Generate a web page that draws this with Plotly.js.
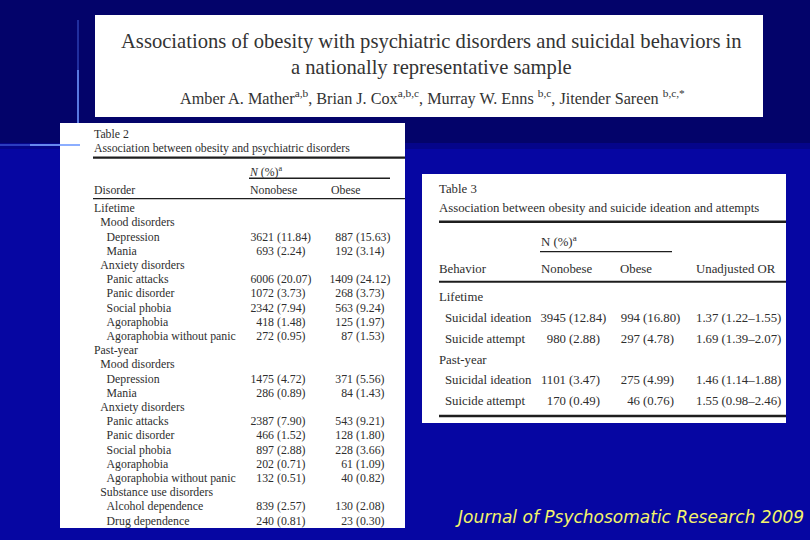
<!DOCTYPE html>
<html>
<head>
<meta charset="utf-8">
<script src="https://cdn.plot.ly/plotly-3.0.1.min.js"></script>
<style>
html, body { margin: 0; padding: 0; background: #0606a2; }
#plot { width: 810px; height: 540px; }
</style>
</head>
<body>
<div id="plot"></div>
<script>
"use strict";

// ── Table 2 — obesity vs psychiatric disorders ──
const t2Labels = [
    "Lifetime", "Mood disorders", "Depression", "Mania",
    "Anxiety disorders", "Panic attacks", "Panic disorder", "Social phobia",
    "Agoraphobia", "Agoraphobia without panic",
    "Past-year", "Mood disorders", "Depression", "Mania",
    "Anxiety disorders", "Panic attacks", "Panic disorder", "Social phobia",
    "Agoraphobia", "Agoraphobia without panic",
    "Substance use disorders", "Alcohol dependence", "Drug dependence",
];
const t2Levels = [0, 1, 2, 2, 1, 2, 2, 2, 2, 2, 0, 1, 2, 2, 1, 2, 2, 2, 2, 2, 1, 2, 2];
const t2NonobeseN = [null, null, 3621, 693, null, 6006, 1072, 2342, 418, 272,
    null, null, 1475, 286, null, 2387, 466, 897, 202, 132, null, 839, 240];
const t2NonobesePct = [null, null, 11.84, 2.24, null, 20.07, 3.73, 7.94, 1.48, 0.95,
    null, null, 4.72, 0.89, null, 7.90, 1.52, 2.88, 0.71, 0.51, null, 2.57, 0.81];
const t2ObeseN = [null, null, 887, 192, null, 1409, 268, 563, 125, 87,
    null, null, 371, 84, null, 543, 128, 228, 61, 40, null, 130, 23];
const t2ObesePct = [null, null, 15.63, 3.14, null, 24.12, 3.73, 9.24, 1.97, 1.53,
    null, null, 5.56, 1.43, null, 9.21, 1.80, 3.66, 1.09, 0.82, null, 2.08, 0.30];

// ── Table 3 — obesity vs suicide ideation and attempts ──
const t3Labels = ["Lifetime", "Suicidal ideation", "Suicide attempt",
    "Past-year", "Suicidal ideation", "Suicide attempt"];
const t3Levels = [0, 1, 1, 0, 1, 1];
const t3NonobeseN = [null, 3945, 980, null, 1101, 170];
const t3NonobesePct = [null, 12.84, 2.88, null, 3.47, 0.49];
const t3ObeseN = [null, 994, 297, null, 275, 46];
const t3ObesePct = [null, 16.80, 4.78, null, 4.99, 0.76];
const t3OR = [null, 1.37, 1.69, null, 1.46, 1.55];
const t3ORLow = [null, 1.22, 1.39, null, 1.14, 0.98];
const t3ORHigh = [null, 1.55, 2.07, null, 1.88, 2.46];

const W = 810, H = 540;
const SERIF = "Liberation Serif, Times New Roman, serif";
const INK = "#2e2e2e";
const RULE = "#1e1e1e";

const px = v => v / W;
const py = v => 1 - v / H;

// y axis in row units, reversed, so row i sits at firstRow + i*pitch px
function rowRange(boxTop, boxBottom, firstRow, pitch) {
    return [(boxBottom - firstRow) / pitch, (boxTop - firstRow) / pitch];
}

const rows = arr => arr.map((_, i) => i);
const keep = (arr, ref) => arr.filter((_, i) => ref[i] !== null);
const pct = v => "(" + v.toFixed(2) + ")";

function textTrace(ax, xs, ys, texts, pos, size) {
    return {
        type: "scatter", mode: "text",
        xaxis: "x" + ax, yaxis: "y" + ax,
        x: xs, y: ys, text: texts,
        textposition: pos,
        textfont: { family: SERIF, size: size, color: INK },
        hoverinfo: "skip", showlegend: false, cliponaxis: false,
    };
}

function numberColumn(ax, nArr, pctArr, nRight, size) {
    const idx = rows(nArr);
    return [
        textTrace(ax, keep(idx, nArr).map(() => nRight), keep(idx, nArr),
            keep(nArr, nArr).map(String), "middle left", size),
        textTrace(ax, keep(idx, nArr).map(() => nRight + 3), keep(idx, nArr),
            keep(pctArr, nArr).map(pct), "middle right", size),
    ];
}

const traces = [];

// Table 2 (box 60..405 x 123..528 px), local x in px from box left
const F2 = 11.8;
traces.push(textTrace(2, t2Levels.map(l => 34 + 6.3 * l), rows(t2Labels),
    t2Labels, "middle right", F2));
traces.push(...numberColumn(2, t2NonobeseN, t2NonobesePct, 214, F2));
traces.push(...numberColumn(2, t2ObeseN, t2ObesePct, 293, F2));

// Table 3 (box 422..786 x 174..423 px)
const F3 = 12.8;
traces.push(textTrace(3, t3Levels.map(l => 17 + 6 * l), rows(t3Labels),
    t3Labels, "middle right", F3));
traces.push(...numberColumn(3, t3NonobeseN, t3NonobesePct, 144, F3));
traces.push(...numberColumn(3, t3ObeseN, t3ObesePct, 218, F3));
const orIdx = keep(rows(t3OR), t3OR);
traces.push(textTrace(3, orIdx.map(() => 274), orIdx,
    orIdx.map(i => t3OR[i].toFixed(2) + " (" + t3ORLow[i].toFixed(2) +
        "\u2013" + t3ORHigh[i].toFixed(2) + ")"), "middle right", F3));

function rect(x0, y0, x1, y1, fill) {
    return { type: "rect", xref: "paper", yref: "paper", layer: "below",
        x0: px(x0), x1: px(x1), y0: py(y1), y1: py(y0),
        fillcolor: fill, line: { width: 0 } };
}
function hline(x0, x1, y, w, color) {
    return { type: "line", xref: "paper", yref: "paper", layer: "above",
        x0: px(x0), x1: px(x1), y0: py(y), y1: py(y),
        line: { color: color || RULE, width: w } };
}
function vline(x, y0, y1, w, color) {
    return { type: "line", xref: "paper", yref: "paper", layer: "below",
        x0: px(x), x1: px(x), y0: py(y0), y1: py(y1),
        line: { color: color, width: w } };
}

const shapes = [
    // slide background: dark band on top, brighter blue below
    rect(0, 0, 810, 143, "#03036a"),
    rect(0, 143, 810, 149, "#05058a"),
    // glowing cross lines
    vline(78, 20, 70, 2, "rgba(90,130,255,0.35)"),
    vline(78, 70, 145, 2, "rgba(110,150,255,0.8)"),
    hline(0, 30, 145, 2, "rgba(90,130,255,0.45)"),
    hline(30, 80, 145, 2, "rgba(120,160,255,0.85)"),
    // paper panels
    rect(95, 15, 763, 117, "#ffffff"),
    rect(60, 123, 405, 528, "#ffffff"),
    rect(422, 174, 786, 423, "#ffffff"),
    // table 2 rules
    hline(93, 405, 157.7, 2.2),
    hline(249, 390, 178.3, 1.5),
    hline(93, 405, 198.7, 1.2),
    // table 3 rules
    hline(439, 786, 221.7, 2.5),
    hline(540, 672, 251.7, 1.3),
    hline(439, 786, 281.7, 2),
    hline(439, 786, 416, 2.5),
];

function note(text, x, y, size, opts) {
    return Object.assign({
        text: text, xref: "paper", yref: "paper",
        x: px(x), y: py(y), xanchor: "left", yanchor: "middle",
        showarrow: false,
        font: { family: SERIF, size: size, color: INK },
    }, opts || {});
}

const TITLE_FONT = { family: SERIF, size: 20.6, color: "#333" };

const annotations = [
    // paper title block
    note("Associations of obesity with psychiatric disorders and suicidal behaviors in",
        431, 41, 20.6, { xanchor: "center", font: TITLE_FONT }),
    note("a nationally representative sample",
        431, 67, 20.6, { xanchor: "center", font: TITLE_FONT }),
    note("Amber A. Mather<sup>a,b</sup>, Brian J. Cox<sup>a,b,c</sup>, Murray W. Enns <sup>b,c</sup>, Jitender Sareen <sup>b,c,*</sup>",
        432, 98, 16.2, { xanchor: "center", font: { family: SERIF, size: 16.2, color: "#333" } }),
    // table 2 captions and header
    note("Table 2", 92, 134, F2),
    note("Association between obesity and psychiatric disorders", 92, 148, F2),
    note("<i>N</i> (%)<sup>a</sup>", 247, 171.7, F2),
    note("Disorder", 92, 190, F2),
    note("Nonobese", 248, 190, F2),
    note("Obese", 329, 190, F2),
    // table 3 captions and header
    note("Table 3", 437, 189.3, F3),
    note("Association between obesity and suicide ideation and attempts", 437, 208.3, F3),
    note("N (%)<sup>a</sup>", 538.7, 241, F3),
    note("Behavior", 437, 269, F3),
    note("Nonobese", 538.7, 269, F3),
    note("Obese", 618, 269, F3),
    note("Unadjusted OR", 694, 269, F3),
    // journal reference
    note("<i>Journal of Psychosomatic Research 2009</i>", 453, 517, 17,
        { font: { family: "DejaVu Sans, sans-serif", size: 17, color: "#f4f46a" } }),
];

const hidden = { visible: false, fixedrange: true, showgrid: false, zeroline: false };

const layout = {
    width: W, height: H,
    margin: { t: 0, r: 0, b: 0, l: 0 },
    paper_bgcolor: "#0606a2",
    plot_bgcolor: "rgba(0,0,0,0)",
    showlegend: false,
    xaxis2: Object.assign({ domain: [px(60), px(405)], range: [0, 345], anchor: "y2" }, hidden),
    yaxis2: Object.assign({ domain: [py(528), py(123)],
        range: rowRange(123, 528, 209.3, 14.2), anchor: "x2" }, hidden),
    xaxis3: Object.assign({ domain: [px(422), px(786)], range: [0, 364], anchor: "y3" }, hidden),
    yaxis3: Object.assign({ domain: [py(423), py(174)],
        range: rowRange(174, 423, 297.7, 20.9), anchor: "x3" }, hidden),
    shapes: shapes,
    annotations: annotations,
};

Plotly.newPlot("plot", traces, layout, { displayModeBar: false, staticPlot: true });
</script>
</body>
</html>
